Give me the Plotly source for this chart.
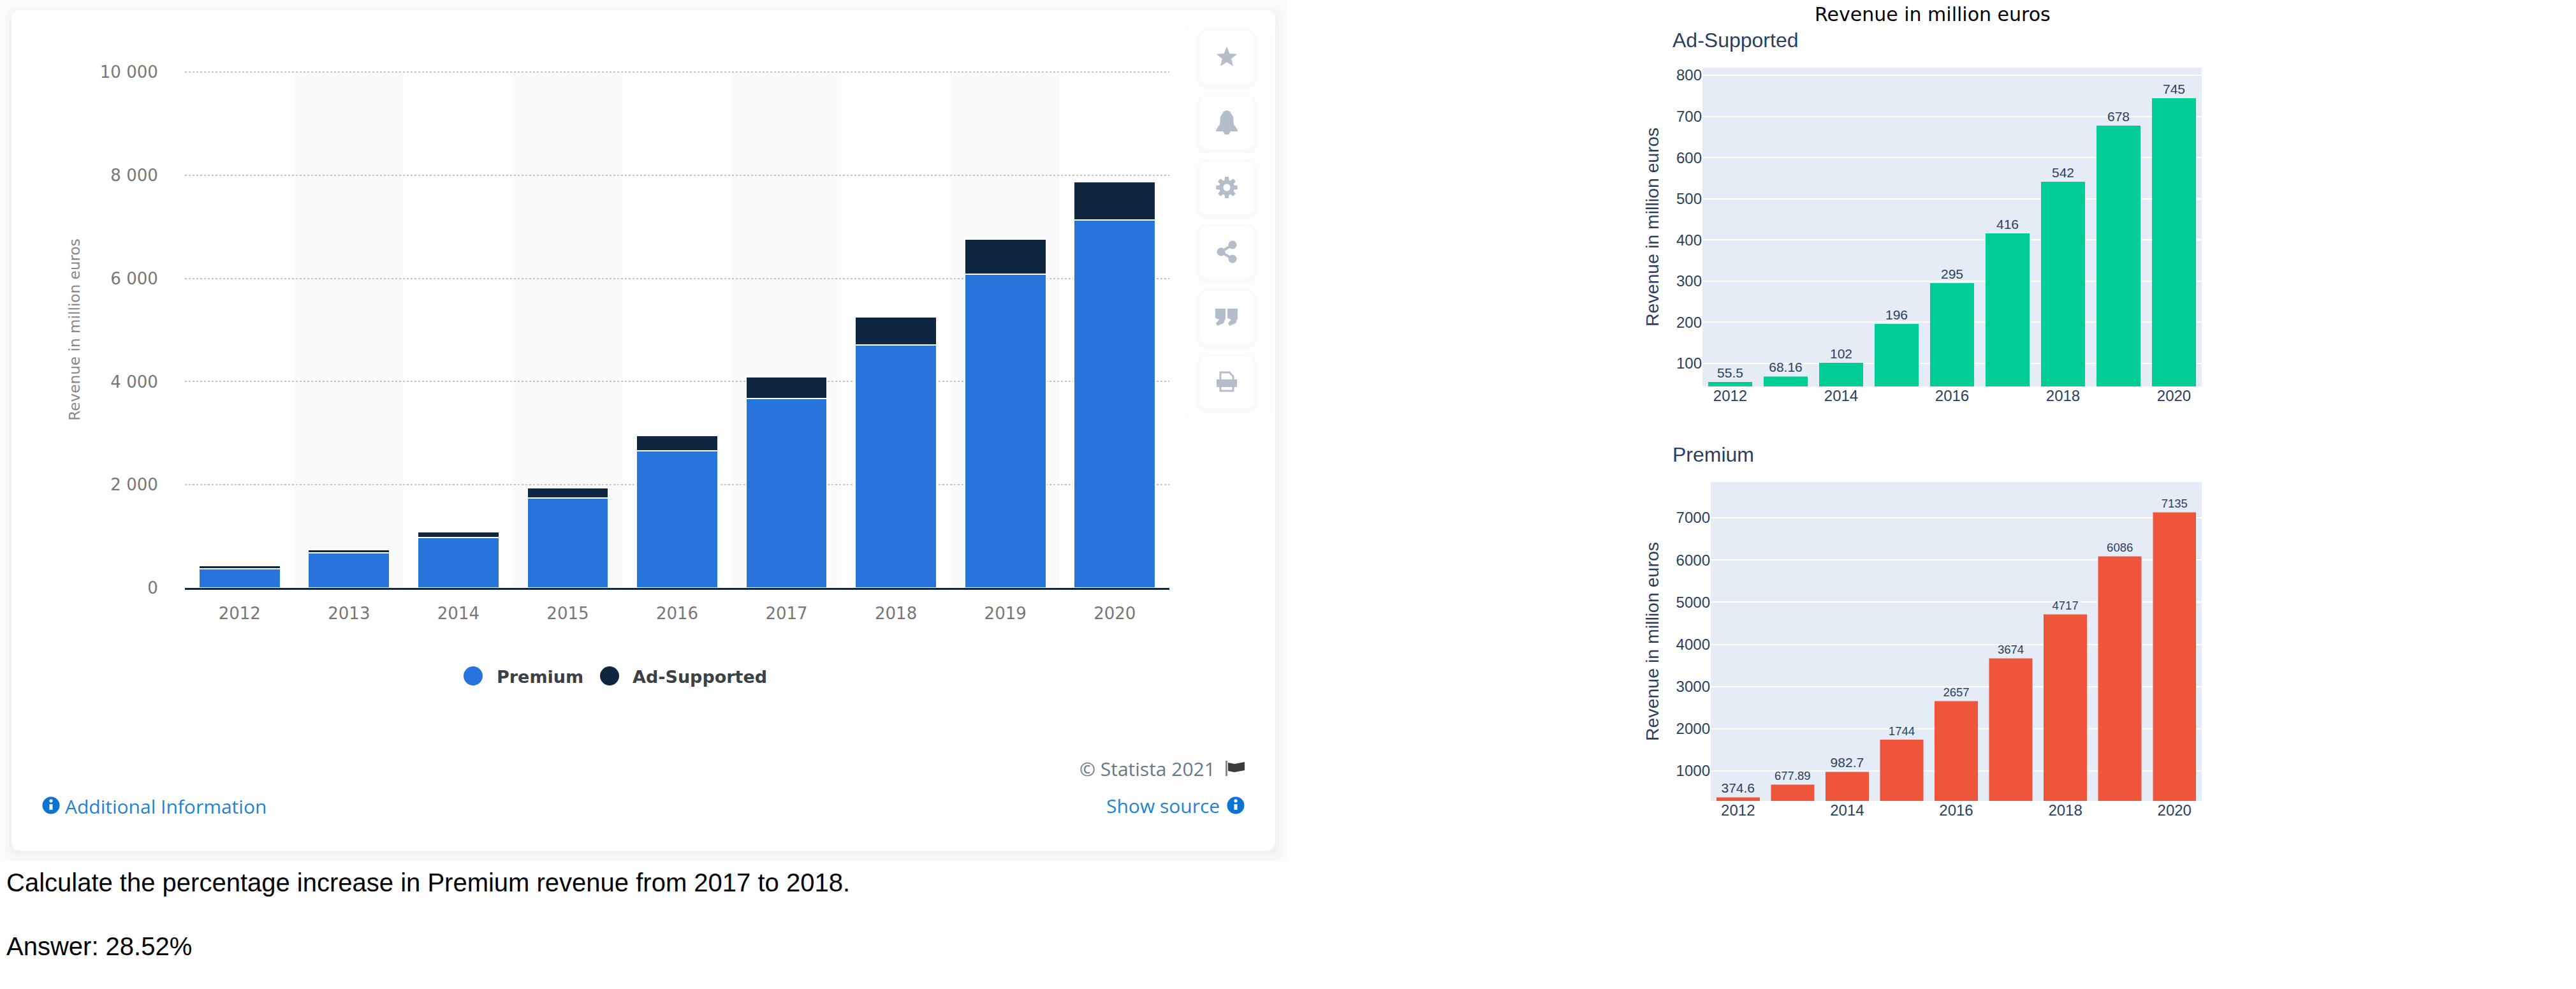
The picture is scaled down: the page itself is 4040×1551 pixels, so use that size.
import math
import plotly.graph_objects as go

W, H = 4040, 1551

years = [2012, 2013, 2014, 2015, 2016, 2017, 2018, 2019, 2020]
premium = [374.6, 677.89, 982.7, 1744, 2657, 3674, 4717, 6086, 7135]
ad_supported = [55.5, 68.16, 102, 196, 295, 416, 542, 678, 745]
left_y_ticks = [0, 2000, 4000, 6000, 8000, 10000]
ad_y_ticks = [100, 200, 300, 400, 500, 600, 700, 800]
premium_y_ticks = [1000, 2000, 3000, 4000, 5000, 6000, 7000]
right_x_ticks = [2012, 2014, 2016, 2018, 2020]
question = "Calculate the percentage increase in Premium revenue from 2017 to 2018."
answer = "Answer: 28.52%"

ad_label_sizes = [21] * 9
premium_label_sizes = [21, 18.5, 21, 18.5, 18.5, 18.5, 18.5, 18.5, 18.5]

def px(x):
    return x / W

def py(y):
    return 1 - y / H

def dom_x(a, b):
    return [px(a), px(b)]

def dom_y(top, bottom):
    return [py(bottom), py(top)]

def path(points, close=True):
    s = "M " + " L ".join(f"{px(x):.5f},{py(y):.5f}" for x, y in points)
    return s + (" Z" if close else "")

def rrect_pts(x0, y0, x1, y1, r, n=8):
    pts = []
    for cx, cy, a0 in [(x1 - r, y0 + r, -90), (x1 - r, y1 - r, 0), (x0 + r, y1 - r, 90), (x0 + r, y0 + r, 180)]:
        for i in range(n + 1):
            a = math.radians(a0 + 90 * i / n)
            pts.append((cx + r * math.cos(a), cy + r * math.sin(a)))
    return pts

def circle_pts(cx, cy, r, n=32):
    return [(cx + r * math.cos(2 * math.pi * i / n), cy + r * math.sin(2 * math.pi * i / n)) for i in range(n)]

shapes = []

def fill(points, color):
    shapes.append(dict(type="path", xref="paper", yref="paper", path=path(points), fillcolor=color,
                       line=dict(width=0), layer="below"))

# page backdrop and soft card shadow
fill([(0, 0), (2018, 0), (2018, 1351), (0, 1351)], "#fafbfc")
fill(rrect_pts(8, 12, 2012, 1351, 18), "#f6f7f9")
fill(rrect_pts(14, 20, 2006, 1342, 16), "#f0f2f5")
fill(rrect_pts(18, 16, 2000, 1334, 14), "#ffffff")
fill(rrect_pts(1856, 30, 1996, 670, 30), "#fdfdfe")

ICON = "#b4bdca"
box_tops = [48, 151, 253, 354, 456, 558]
for t in box_tops:
    fill(rrect_pts(1877, t - 2, 1971, t + 90, 16), "#f8f9fb")
    fill(rrect_pts(1881, t, 1967, t + 83, 14), "#ffffff")
cx = 1924

def cy(i):
    return box_tops[i] + 41

# star
fill([(cx + (17 if k % 2 == 0 else 7.5) * math.sin(math.pi * k / 5),
       cy(0) + 1 - (17 if k % 2 == 0 else 7.5) * math.cos(math.pi * k / 5)) for k in range(10)], ICON)
# bell
c = cy(1)
fill([(cx, c - 19), (cx + 5, c - 17), (cx + 10, c - 9), (cx + 11, c + 3), (cx + 17, c + 12), (cx + 17, c + 14),
      (cx + 6, c + 14), (cx + 3, c + 19), (cx - 3, c + 19), (cx - 6, c + 14), (cx - 17, c + 14), (cx - 17, c + 12),
      (cx - 11, c + 3), (cx - 10, c - 9), (cx - 5, c - 17)], ICON)
# gear
c = cy(2)
gear = []
for k in range(8):
    a = 2 * math.pi * k / 8
    for da, r in [(-0.30, 12), (-0.17, 17), (0.17, 17), (0.30, 12)]:
        gear.append((cx + r * math.sin(a + da), c - r * math.cos(a + da)))
fill(gear, ICON)
fill(circle_pts(cx, c, 5.5), "#ffffff")
# share
c = cy(3)
for dx, dy in [(9, -11), (9, 11), (-9, 0)]:
    fill(circle_pts(cx + dx, c + dy, 6.5), ICON)
shapes.append(dict(type="path", xref="paper", yref="paper", layer="below", line=dict(color=ICON, width=4),
                   path=path([(cx + 9, c - 11), (cx - 9, c), (cx + 9, c + 11)], close=False)))
# quote
c = cy(4)
for dx in (-10, 9):
    fill([(cx + dx - 8, c - 13), (cx + dx + 8, c - 13), (cx + dx + 8, c + 2), (cx + dx + 5, c + 10),
          (cx + dx - 5, c + 14), (cx + dx - 7, c + 10), (cx + dx - 2, c + 4), (cx + dx - 8, c + 2)], ICON)
# printer
c = cy(5)
fill([(cx - 16, c - 4), (cx + 16, c - 4), (cx + 16, c + 8), (cx - 16, c + 8)], ICON)
shapes.append(dict(type="path", xref="paper", yref="paper", layer="below", line=dict(color=ICON, width=3),
                   path=path([(cx - 10, c - 4), (cx - 10, c - 15), (cx + 4, c - 15), (cx + 10, c - 9), (cx + 10, c - 4)], close=False)))
shapes.append(dict(type="path", xref="paper", yref="paper", layer="below", line=dict(color=ICON, width=3),
                   path=path([(cx - 10, c + 8), (cx - 10, c + 14), (cx + 10, c + 14), (cx + 10, c + 8)], close=False)))

# legend dots
fill(circle_pts(742, 1060, 15), "#2874dd")
fill(circle_pts(956, 1060, 15), "#0f2640")
# info icons and flag
for ix, iy in [(80, 1263), (1938, 1263)]:
    fill(circle_pts(ix, iy, 13.5), "#0b74d1")
    fill([(ix - 2.5, iy - 2), (ix + 2.5, iy - 2), (ix + 2.5, iy + 7), (ix - 2.5, iy + 7)], "#ffffff")
    fill(circle_pts(ix, iy - 7, 2.6), "#ffffff")
fill([(1922, 1193), (1925, 1193), (1925, 1217), (1922, 1217)], "#888b8f")
fill([(1926, 1196), (1936, 1198), (1952, 1195), (1952, 1208), (1936, 1211), (1926, 1209)], "#3a3c3f")

# alternating year bands, drawn on the data axis
for yr in years[1::2]:
    shapes.append(dict(type="rect", xref="x", yref="y", x0=yr - 0.5, x1=yr + 0.5, y0=0, y1=10000,
                       fillcolor="#fafafa", line=dict(width=0), layer="below"))

fig = go.Figure()
fig.add_trace(go.Bar(x=years, y=premium, name="Premium", marker=dict(color="#2874dd", line=dict(color="#ffffff", width=2)),
                     width=0.745, xaxis="x", yaxis="y"))
fig.add_trace(go.Bar(x=years, y=ad_supported, name="Ad-Supported", marker=dict(color="#0f2640", line=dict(color="#ffffff", width=2)),
                     width=0.745, xaxis="x", yaxis="y"))
fig.add_trace(go.Bar(x=years, y=ad_supported, name="Ad-Supported", marker_color="#00cc96", width=0.8,
                     text=[str(v) for v in ad_supported], textposition="outside", cliponaxis=False,
                     textfont=dict(size=ad_label_sizes, color="#2a3f5f", family="Liberation Sans"),
                     xaxis="x2", yaxis="y2"))
fig.add_trace(go.Bar(x=years, y=premium, name="Premium", marker_color="#ef553b", width=0.8,
                     text=[str(v) for v in premium], textposition="outside", cliponaxis=False,
                     textfont=dict(size=premium_label_sizes, color="#2a3f5f", family="Liberation Sans"),
                     xaxis="x3", yaxis="y3"))

STAT = "DejaVu Sans"
PLOTLY = "Liberation Sans"
INK = "#2a3f5f"

def note(text, x, y, size, color, family, anchor="left", weight=None):
    a = dict(text=text, xref="paper", yref="paper", x=px(x), y=py(y), xanchor=anchor, yanchor="middle",
             showarrow=False, font=dict(size=size, color=color, family=family))
    if weight:
        a["font"]["weight"] = weight
    return a

annotations = [
    note("Premium", 777, 1061, 27, "#3d4146", STAT, weight=700),
    note("Ad-Supported", 990, 1061, 27, "#3d4146", STAT, weight=700),
    note("© Statista 2021", 1908, 1205, 30, "#66788c", "Open Sans", anchor="right"),
    note("Additional Information", 100, 1264, 30, "#2283d4", "Open Sans"),
    note("Show source", 1915, 1263, 30, "#2283d4", "Open Sans", anchor="right"),
    note(question, 8, 1384, 40, "#000000", "Liberation Sans"),
    note(answer, 8, 1484, 40, "#000000", "Liberation Sans"),
    note("Revenue in million euros", 3031, 22, 30, "#000000", "DejaVu Sans", anchor="center"),
    note("Ad-Supported", 2621, 63, 32, INK, PLOTLY),
    note("Premium", 2621, 713, 32, INK, PLOTLY),
]

right_x = dict(tickmode="array", tickvals=right_x_ticks, range=[2011.5, 2020.5], showgrid=False, zeroline=False, automargin=False,
               tickfont=dict(size=24, color=INK, family=PLOTLY), ticks="", ticklabelstandoff=-2)
right_y = dict(tickmode="array", tickformat="d", showgrid=True, gridcolor="#ffffff", gridwidth=2, zeroline=False, automargin=False,
               tickfont=dict(size=24, color=INK, family=PLOTLY), ticks="")

fig.update_layout(
    width=W, height=H, autosize=False, margin=dict(l=0, r=0, t=0, b=0), showlegend=False,
    paper_bgcolor="#ffffff", plot_bgcolor="rgba(0,0,0,0)", barmode="stack", separators=". ",
    shapes=shapes, annotations=annotations,
    xaxis=dict(domain=dom_x(290, 1834), range=[2011.5, 2020.5], tickmode="array", tickvals=years, showgrid=False, zeroline=False,
               automargin=False, showline=True, linecolor="#0f2640", linewidth=3,
               tickfont=dict(size=26, color="#777777", family=STAT), ticks="outside", ticklen=15, tickcolor="rgba(0,0,0,0)"),
    yaxis=dict(domain=dom_y(112, 922), range=[0, 10015], tickmode="array", tickvals=left_y_ticks, tickformat=",d", automargin=False,
               showgrid=True, griddash="dot", gridcolor="#c4c4c4", gridwidth=2, zeroline=False,
               tickfont=dict(size=26, color="#777777", family=STAT), ticks="outside", ticklen=36, tickcolor="rgba(0,0,0,0)",
               title=dict(text="Revenue in million euros", font=dict(size=23.2, color="#888888", family=STAT), standoff=24)),
    xaxis2=dict(domain=dom_x(2670, 3453), anchor="y2", **right_x),
    yaxis2=dict(domain=dom_y(106, 606), anchor="x2", range=[44, 818.6], tickvals=ad_y_ticks, **right_y,
                title=dict(text="Revenue in million euros", font=dict(size=28.5, color=INK, family=PLOTLY), standoff=18)),
    xaxis3=dict(domain=dom_x(2683, 3453), anchor="y3", **right_x),
    yaxis3=dict(domain=dom_y(756, 1256), anchor="x3", range=[290, 7846], tickvals=premium_y_ticks, **right_y,
                title=dict(text="Revenue in million euros", font=dict(size=28.5, color=INK, family=PLOTLY), standoff=18)),
)

# the two small charts carry their own pale panel, on their own axes
for xr, yr_ in [(("x2", "y2"), (44, 818.6)), (("x3", "y3"), (290, 7846))]:
    fig.add_shape(type="rect", xref=xr[0], yref=xr[1], x0=2011.5, x1=2020.5, y0=yr_[0], y1=yr_[1],
                  fillcolor="#e5ecf6", line=dict(width=0), layer="below")

fig.write_html("out.html", config={"displayModeBar": False},
               post_script="document.body.style.margin='0';document.documentElement.style.overflow='hidden';")
